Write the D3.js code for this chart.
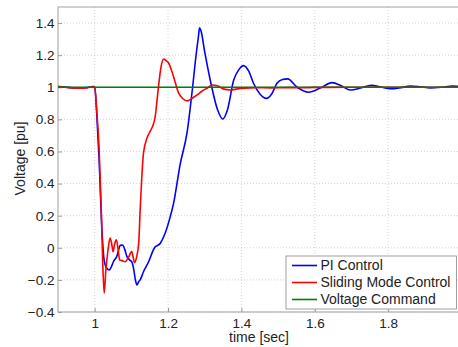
<!DOCTYPE html>
<html><head><meta charset="utf-8">
<script src="https://cdn.jsdelivr.net/npm/d3@7"></script>
<style>
html,body{margin:0;padding:0;background:#fff;overflow:hidden}
svg{display:block}
text{font-family:"Liberation Sans",Arial,sans-serif;fill:#222}
</style></head>
<body>
<svg id="c" width="458" height="347"></svg>
<script>
// ---- data (time [sec], voltage [pu]) ----
const piTime = [0.9,0.92,0.94,0.96,0.98,0.995,1.0,1.006,1.012,1.02,1.026,1.033,1.040,1.046,1.051,1.060,1.070,1.076,1.082,1.088,1.095,1.101,1.106,1.111,1.115,1.120,1.124,1.133,1.147,1.163,1.179,1.192,1.206,1.215,1.233,1.252,1.265,1.277,1.283,1.286,1.290,1.300,1.315,1.335,1.349,1.362,1.379,1.393,1.406,1.420,1.433,1.450,1.468,1.483,1.497,1.512,1.526,1.552,1.583,1.615,1.647,1.672,1.697,1.725,1.754,1.780,1.806,1.835,1.861,1.888,1.915,1.945,1.975,2.0];
const piVolt = [1.005,1.002,0.996,0.995,0.998,1.005,1.0,0.82,0.55,0.1,-0.08,-0.128,-0.138,-0.115,-0.087,-0.055,0.015,0.017,-0.01,-0.055,-0.075,-0.087,-0.128,-0.2,-0.232,-0.21,-0.2,-0.149,-0.087,0.0,0.028,0.09,0.194,0.277,0.52,0.72,0.96,1.212,1.32,1.37,1.35,1.22,1.045,0.86,0.802,0.86,1.045,1.11,1.135,1.1,1.025,0.96,0.931,0.96,1.025,1.048,1.052,1.0,0.969,0.995,1.029,1.01,0.983,0.995,1.012,1.002,0.991,0.998,1.008,1.003,0.996,1.0,1.008,1.003];

const smcTime = [0.9,0.92,0.94,0.96,0.98,0.995,1.0,1.006,1.012,1.018,1.022,1.026,1.030,1.036,1.042,1.046,1.050,1.054,1.059,1.064,1.068,1.075,1.083,1.092,1.101,1.105,1.109,1.114,1.120,1.124,1.133,1.142,1.150,1.160,1.165,1.170,1.174,1.181,1.188,1.195,1.201,1.215,1.229,1.240,1.252,1.265,1.279,1.295,1.306,1.320,1.335,1.350,1.370,1.390,1.410,1.440,1.480,1.520,1.560,1.600,1.700,1.800,1.900,2.0];
const smcVolt = [1.003,1.0,0.995,0.994,0.997,1.004,1.0,0.84,0.62,0.235,-0.1,-0.283,-0.15,-0.02,0.06,0.03,-0.024,0.02,0.049,-0.01,-0.076,-0.08,-0.087,-0.06,-0.024,-0.06,-0.093,-0.06,0.028,0.236,0.589,0.68,0.72,0.77,0.817,0.92,1.004,1.128,1.176,1.165,1.153,1.066,0.963,0.93,0.915,0.93,0.952,0.98,0.994,1.014,1.01,0.99,0.983,0.99,0.994,0.997,0.996,0.998,0.997,0.999,1.0,1.0,1.0,1.0];

const cmdTime = [0.9,2.0];
const cmdVolt = [1.0,1.0];

const xTicks = [1,1.2,1.4,1.6,1.8,2];
const yTicks = [-0.4,-0.2,0,0.2,0.4,0.6,0.8,1,1.2,1.4];
const seriesNames = ["PI Control","Sliding Mode Control","Voltage Command"];
const seriesColors = ["#0000ff","#ff0000","#008000"];

// ---- layout ----
const L = 58, R = 461.5, T = 7, B = 312;
const svg = d3.select("#c");
const x = d3.scaleLinear().domain([0.9,2.0]).range([L,R]);
const y = d3.scaleLinear().domain([-0.4,1.5]).range([B,T]);

const fmt = d => (Math.abs(d) < 1e-9 ? "0" : d3.format("")(+d.toFixed(1)));

// grid
const grid = svg.append("g").attr("stroke","#c8c8c8").attr("stroke-width",0.8).attr("stroke-dasharray","1,2");
grid.selectAll("line.gx").data(xTicks).join("line")
  .attr("x1",d=>x(d)).attr("x2",d=>x(d)).attr("y1",T).attr("y2",B);
grid.selectAll("line.gy").data(yTicks).join("line")
  .attr("x1",L).attr("x2",R).attr("y1",d=>y(d)).attr("y2",d=>y(d));

// axes
const xAxis = svg.append("g").attr("transform",`translate(0,${B})`)
  .call(d3.axisBottom(x).tickValues(xTicks).tickFormat(fmt).tickSize(-4).tickPadding(6.5));
const yAxis = svg.append("g").attr("transform",`translate(${L},0)`)
  .call(d3.axisLeft(y).tickValues(yTicks).tickFormat(fmt).tickSize(-4).tickPadding(3.5));
[xAxis,yAxis].forEach(a=>{
  a.select(".domain").remove();
  a.selectAll(".tick line").attr("stroke","#999");
  a.selectAll("text").attr("font-size",13.5).attr("fill","#222")
   .attr("font-family","'Liberation Sans',Arial,sans-serif");
});
// box
svg.append("rect").attr("x",L).attr("y",T).attr("width",R-L).attr("height",B-T)
  .attr("fill","none").attr("stroke","#a0a0a0").attr("stroke-width",1);

// lines
const line = d3.line().x(d=>x(d[0])).y(d=>y(d[1])).curve(d3.curveMonotoneX);
const clip = svg.append("clipPath").attr("id","pc").append("rect")
  .attr("x",L).attr("y",T).attr("width",R-L).attr("height",B-T);
const plot = svg.append("g").attr("clip-path","url(#pc)");
const series = [
  {t:piTime, v:piVolt, c:seriesColors[0]},
  {t:smcTime, v:smcVolt, c:seriesColors[1]},
  {t:cmdTime, v:cmdVolt, c:seriesColors[2]}
];
series.forEach(s=>{
  plot.append("path").datum(s.t.map((t,i)=>[t,s.v[i]]))
    .attr("d",line).attr("fill","none").attr("stroke",s.c).attr("stroke-width",1.6)
    .attr("stroke-linejoin","round");
});

// axis titles
svg.append("text").attr("x",259).attr("y",342).attr("text-anchor","middle")
  .attr("font-size",14).text("time [sec]");
svg.append("text").attr("transform",`translate(25,158.5) rotate(-90)`)
  .attr("text-anchor","middle").attr("font-size",14).text("Voltage [pu]");

// legend
const lg = svg.append("g");
lg.append("rect").attr("x",286).attr("y",256).attr("width",170.5).attr("height",53)
  .attr("fill","#fff").attr("stroke","#a0a0a0").attr("stroke-width",1);
seriesNames.forEach((n,i)=>{
  const yy = 265.5 + i*17;
  lg.append("line").attr("x1",292).attr("x2",317).attr("y1",yy).attr("y2",yy)
    .attr("stroke",seriesColors[i]).attr("stroke-width",1.6);
  lg.append("text").attr("x",320.5).attr("y",yy+4.8).attr("font-size",14).text(n);
});
</script>
</body></html>
